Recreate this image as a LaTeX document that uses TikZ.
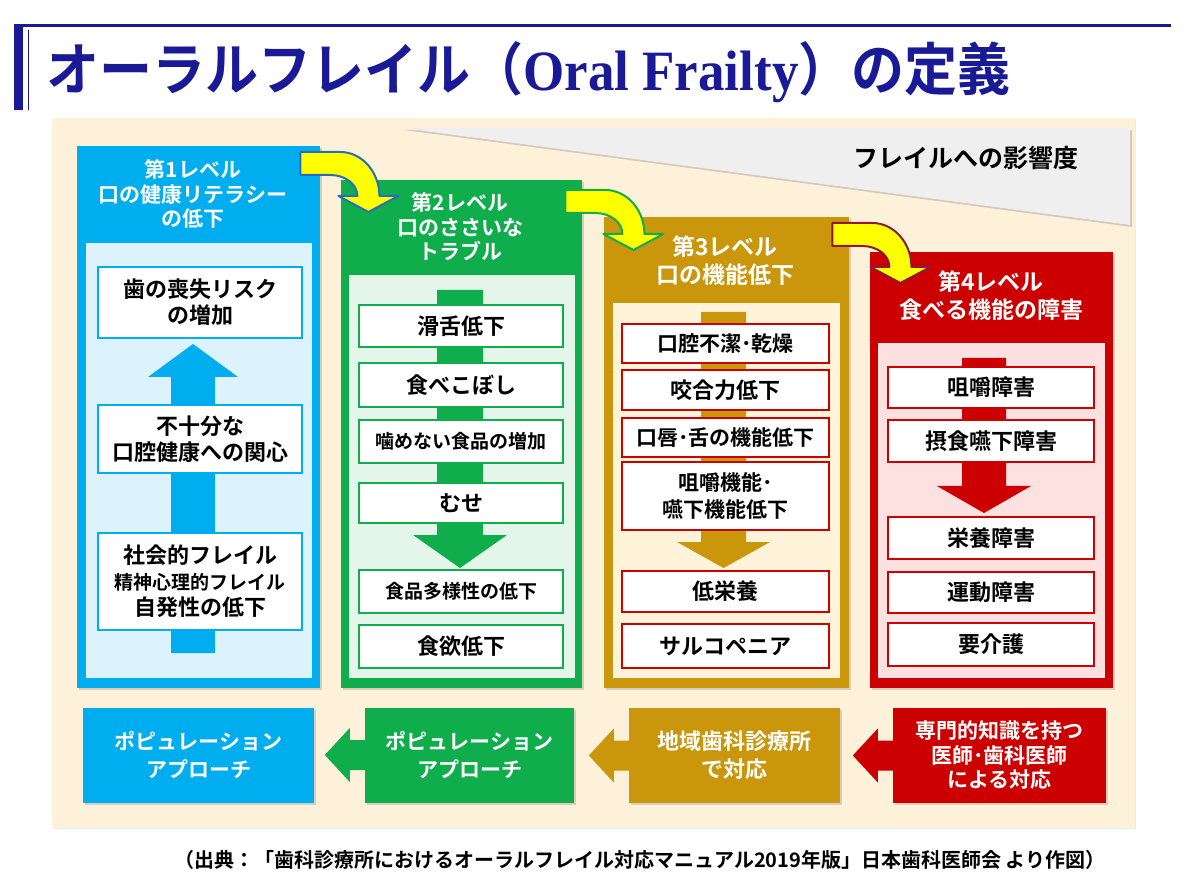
\documentclass[tikz,border=0pt]{standalone}
\usepackage{fontspec}
\usepackage{graphicx}
\setmainfont{Noto Sans CJK JP}[BoldFont={Noto Sans CJK JP Bold}]
\newfontfamily\latinserif{Liberation Serif}
\usepackage{tikz}
\usetikzlibrary{shadows,positioning}

\definecolor{lvOne}{HTML}{00AEEF}
\definecolor{lvOneL}{HTML}{DCF2FC}
\definecolor{lvTwo}{HTML}{10AD4C}
\definecolor{lvTwoL}{HTML}{E4F6EA}
\definecolor{lvThree}{HTML}{C9960C}
\definecolor{lvThreeL}{HTML}{FFF4DA}
\definecolor{lvFour}{HTML}{CC0000}
\definecolor{lvFourL}{HTML}{FDE0E0}
\definecolor{cream}{HTML}{FEF1DA}
\definecolor{wedge}{HTML}{EFEFEF}
\definecolor{titleblue}{HTML}{1A1A96}
\definecolor{arrowyellow}{HTML}{FFFF00}
\definecolor{turnA}{HTML}{2A6EBB}
\definecolor{turnC}{HTML}{8B1A3C}

% block arrow inside a column: x, shaft half, head half, start y, head base y, tip y, colour
\newcommand{\Shaft}[7]{\fill[#7] (#1-#2,#4) -- (#1-#2,#5) -- (#1-#3,#5) -- (#1,#6)
  -- (#1+#3,#5) -- (#1+#2,#5) -- (#1+#2,#4) -- cycle;}
% curved yellow arrow from one level to the next
\newcommand{\Turn}[2]{\filldraw[curve,draw=#2,shift={(#1)}] (0,0) -- (40,0)
  .. controls (61.5,0) and (79,20) .. (79,44) -- (98,44) -- (68,60) -- (38,44) -- (57,44)
  .. controls (57,32.4) and (44.9,23) .. (30,23) -- (0,23) -- cycle;}
% left pointing arrow in front of a bottom box
\newcommand{\Back}[2]{\fill[#2,shift={(#1)}] (1,-15) -- (-15,-15) -- (-15,-27) -- (-40,0)
  -- (-15,27) -- (-15,15) -- (1,15) -- cycle;}

\begin{document}
\begin{tikzpicture}[x=1pt,y=-1pt,
  column/.style={anchor=north west,inner sep=0pt,
    drop shadow={shadow xshift=2pt,shadow yshift=-2pt,opacity=0.3}},
  panel/.style={anchor=north west,inner sep=0pt},
  head/.style={text=white,align=center,font=\fontsize{21}{24.5}\selectfont\bfseries},
  bighead/.style={head,font=\fontsize{23}{28}\selectfont\bfseries},
  item/.style={draw,fill=white,line width=2.5pt,inner sep=0pt,minimum height=42pt,
    align=center,font=\fontsize{22}{26}\selectfont\bfseries},
  small/.style={font=\fontsize{19}{23}\selectfont\bfseries},
  approach/.style={minimum height=95pt,inner sep=0pt,text=white,align=center,
    font=\fontsize{21}{28}\selectfont\bfseries,
    drop shadow={shadow xshift=2pt,shadow yshift=-2pt,opacity=0.3}},
  curve/.style={fill=arrowyellow,line width=2pt,line join=round}
]
\useasboundingbox (0,0) rectangle (1200,882);
\fill[white] (0,0) rectangle (1200,882);

% title
\draw[titleblue,line width=3pt] (14,26) -- (1171,26);
\fill[titleblue] (14,26) rectangle (23,110);
\draw[titleblue,line width=1pt] (28,30) -- (28,110);
\node[anchor=west,text=titleblue,inner sep=0pt,font=\fontsize{57}{60}\selectfont\bfseries] (title) at (46,72)
  {\scalebox{0.93}[1]{オーラルフレイル（{\latinserif Oral Frailty}）の定義}};

% background and impact wedge
\fill[cream,drop shadow={shadow xshift=1pt,shadow yshift=-1pt,opacity=0.15}] (52,118) rectangle (1135,828);
\fill[wedge,drop shadow={shadow xshift=2pt,shadow yshift=-2pt,opacity=0.35}] (402,128) -- (1130,128) -- (1130,225) -- cycle;
\node[font=\fontsize{25}{28}\selectfont\bfseries] (impact) at (966,158) {フレイルへの影響度};

% four levels
\node[column,fill=lvOne,minimum width=243pt,minimum height=542pt] (c1) at (77,146) {};
\node[column,fill=lvTwo,minimum width=241pt,minimum height=508pt] (c2) at (341,180) {};
\node[column,fill=lvThree,minimum width=245pt,minimum height=471pt] (c3) at (604,217) {};
\node[column,fill=lvFour,minimum width=243pt,minimum height=436pt] (c4) at (870,252) {};

\node[panel,fill=lvOneL,minimum width=226pt,minimum height=435pt] (i1) at (86,243) {};
\node[panel,fill=lvTwoL,minimum width=226pt,minimum height=403pt] (i2) at (349,275) {};
\node[panel,fill=lvThreeL,minimum width=227pt,minimum height=375pt] (i3) at (613,303) {};
\node[panel,fill=lvFourL,minimum width=227pt,minimum height=335pt] (i4) at (878,343) {};

\node[head] (h1) at (193,194) {第1レベル\\口の健康リテラシー\\の低下};
\node[head] (h2) at (460,227) {第2レベル\\口のささいな\\トラブル};
\node[bighead] (h3) at (725,261) {第3レベル\\口の機能低下};
\node[bighead] (h4) at (991,296) {第4レベル\\食べる機能の障害};

\Shaft{193}{22}{45}{653}{377}{344}{lvOne}
\Shaft{460}{23}{47}{290}{535}{568}{lvTwo}
\Shaft{723.5}{22.5}{46.5}{312}{542}{568}{lvThree}
\Shaft{984}{22}{47}{358}{486}{513}{lvFour}

% level 1
\node[item,draw=lvOne,minimum width=204pt,minimum height=71pt] (b11) at (200,302.5) {歯の喪失リスク\\の増加};
\node[item,draw=lvOne,minimum width=204pt,minimum height=68pt] (b12) at (200,439) {不十分な\\口腔健康への関心};
\node[item,draw=lvOne,minimum width=204pt,minimum height=97pt] (b13) at (200,581.5)
  {社会的フレイル\\{\fontsize{19}{23}\selectfont 精神心理的フレイル}\\自発性の低下};

% level 2
\node[item,draw=lvTwo,minimum width=204pt] (b21) at (461,326) {滑舌低下};
\node[item,draw=lvTwo,minimum width=204pt,minimum height=44pt] (b22) at (461,385) {食べこぼし};
\node[item,small,draw=lvTwo,minimum width=204pt,minimum height=43pt] (b23) at (461,441.5) {噛めない食品の増加};
\node[item,draw=lvTwo,minimum width=204pt,minimum height=40pt] (b24) at (461,503) {むせ};
\node[item,small,draw=lvTwo,minimum width=204pt,minimum height=43pt] (b25) at (461,591.5) {食品多様性の低下};
\node[item,draw=lvTwo,minimum width=204pt,minimum height=43pt] (b26) at (461,646.5) {食欲低下};

% level 3
\node[item,draw=lvFour,minimum width=207pt,minimum height=39pt,font=\fontsize{21}{27}\selectfont\bfseries] (b31) at (725.5,343.5) {口腔不潔･乾燥};
\node[item,draw=lvFour,minimum width=207pt,minimum height=40pt] (b32) at (725.5,390) {咬合力低下};
\node[item,draw=lvFour,minimum width=207pt,minimum height=39pt,font=\fontsize{21}{27}\selectfont\bfseries] (b33) at (725.5,437.5) {口唇･舌の機能低下};
\node[item,draw=lvFour,minimum width=207pt,minimum height=68pt,font=\fontsize{21}{27}\selectfont\bfseries] (b34) at (725.5,496) {咀嚼機能･\\嚥下機能低下};
\node[item,draw=lvFour,minimum width=207pt,minimum height=41pt] (b35) at (725.5,591.5) {低栄養};
\node[item,draw=lvFour,minimum width=207pt,minimum height=44pt] (b36) at (725.5,646) {サルコペニア};

% level 4
\node[item,draw=lvFour,minimum width=206pt,minimum height=41pt] (b41) at (991,387.5) {咀嚼障害};
\node[item,draw=lvFour,minimum width=206pt] (b42) at (991,441) {摂食嚥下障害};
\node[item,draw=lvFour,minimum width=206pt] (b43) at (991,538) {栄養障害};
\node[item,draw=lvFour,minimum width=206pt,minimum height=41pt] (b44) at (991,592.5) {運動障害};
\node[item,draw=lvFour,minimum width=206pt,minimum height=43pt] (b45) at (991,644.5) {要介護};

% curved arrows between levels
\coordinate (t1) at ([xshift=-20pt,yshift=-6pt]c1.north east);
\coordinate (t2) at ([xshift=-17pt,yshift=-10pt]c2.north east);
\coordinate (t3) at ([xshift=-17pt,yshift=-6pt]c3.north east);
\Turn{t1}{turnA}
\Turn{t2}{lvTwo}
\Turn{t3}{turnC}

% who responds
\node[approach,fill=lvOne,minimum width=231pt] (p1) at (198.5,755.5) {ポピュレーション\\アプローチ};
\node[approach,fill=lvTwo,minimum width=209pt] (p2) at (469.5,755) {ポピュレーション\\アプローチ};
\node[approach,fill=lvThree,minimum width=211pt,font=\fontsize{22}{28}\selectfont\bfseries] (p3) at (734.5,755.5) {地域歯科診療所\\で対応};
\node[approach,fill=lvFour,minimum width=213pt,font=\fontsize{21}{24.5}\selectfont\bfseries] (p4) at (999.5,755.5) {専門的知識を持つ\\医師･歯科医師\\による対応};
\Back{p2.west}{lvTwo}
\Back{p3.west}{lvThree}
\Back{p4.west}{lvFour}

\node[font=\fontsize{20}{24}\selectfont\bfseries] (source) at (640,860)
  {（出典：「歯科診療所におけるオーラルフレイル対応マニュアル2019年版」日本歯科医師会 より作図）};
\end{tikzpicture}
\end{document}
